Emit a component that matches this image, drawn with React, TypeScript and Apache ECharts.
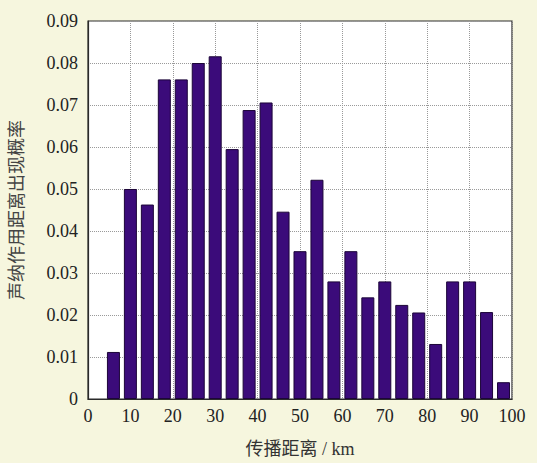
import React, { useEffect, useRef } from "react";
import * as echarts from "echarts";

const binCenters = [6, 10, 14, 18, 22, 26, 30, 34, 38, 42, 46, 50, 54, 58, 62, 66, 70, 74, 78, 82, 86, 90, 94, 98];
const probabilities = [
  0.0112, 0.05, 0.0463, 0.0761, 0.0761, 0.08, 0.0816, 0.0595, 0.0688, 0.0706,
  0.0446, 0.0352, 0.0522, 0.028, 0.0352, 0.0242, 0.028, 0.0224, 0.0206, 0.0131,
  0.028, 0.028, 0.0207, 0.004,
];
const xTitle = "传播距离 / km";
const yTitle = "声纳作用距离出现概率";

const FONT = "'Liberation Serif', 'Noto Sans CJK SC', serif";

export default function App() {
  const ref = useRef<HTMLDivElement>(null);
  useEffect(() => {
    if (!ref.current) return;
    const chart = echarts.init(ref.current, undefined, { renderer: "svg" });
    chart.setOption({
      animation: false,
      backgroundColor: "#f6f6de",
      grid: {
        left: 86,
        right: 25,
        top: 21,
        bottom: 59,
        show: true,
        backgroundColor: "#ffffff",
        borderColor: "#2a2a2a",
        borderWidth: 1.2,
      },
      xAxis: {
        type: "value",
        min: 0,
        max: 100,
        interval: 10,
        name: xTitle,
        nameLocation: "middle",
        nameGap: 41,
        nameTextStyle: { fontFamily: FONT, fontSize: 18, color: "#333" },
        axisLine: { show: true, lineStyle: { color: "#2a2a2a", width: 1.2 } },
        axisTick: { show: false },
        axisLabel: { fontFamily: FONT, fontSize: 18, color: "#222", margin: 8 },
        splitLine: { show: true, lineStyle: { type: "dotted", color: "#999", width: 1 } },
      },
      yAxis: {
        type: "value",
        min: 0,
        max: 0.09,
        interval: 0.01,
        name: yTitle,
        nameLocation: "middle",
        nameRotate: 90,
        nameGap: 62,
        nameTextStyle: { fontFamily: FONT, fontSize: 18, color: "#444" },
        axisLine: { show: true, lineStyle: { color: "#2a2a2a", width: 1.2 } },
        axisTick: { show: false },
        axisLabel: {
          fontFamily: FONT,
          fontSize: 18,
          color: "#222",
          margin: 10,
          formatter: (v: number) => (v === 0 ? "0" : v.toFixed(2)),
        },
        splitLine: { show: true, lineStyle: { type: "dotted", color: "#999", width: 1 } },
      },
      series: [
        {
          type: "bar",
          data: binCenters.map((c, i) => [c, probabilities[i]]),
          barWidth: 13,
          itemStyle: { color: "#3b0b7a", borderColor: "#1c0538", borderWidth: 1 },
        },
      ],
    });
    return () => chart.dispose();
  }, []);
  return <div ref={ref} style={{ width: 537, height: 463, position: "absolute", left: 0, top: 0 }} />;
}
